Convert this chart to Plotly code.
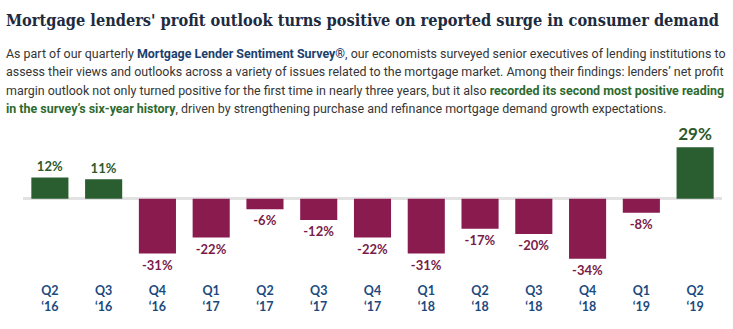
import plotly.graph_objects as go

quarters = ["Q2<br>‘16", "Q3<br>‘16", "Q4<br>‘16", "Q1<br>‘17", "Q2<br>‘17", "Q3<br>‘17",
            "Q4<br>‘17", "Q1<br>‘18", "Q2<br>‘18", "Q3<br>‘18", "Q4<br>‘18", "Q1<br>‘19", "Q2<br>‘19"]
net_profit_outlook = [12, 11, -31, -22, -6, -12, -22, -31, -17, -20, -34, -8, 29]

title_text = "Mortgage lenders' profit outlook turns positive on reported surge in consumer demand"
body_lines = [
    "As part of our quarterly <b><span style='color:#1b3f6e'>Mortgage Lender Sentiment Survey®</span></b>, "
    "our economists surveyed senior executives of lending institutions to",
    "assess their views and outlooks across a variety of issues related to the mortgage market. "
    "Among their findings: lenders’ net profit",
    "margin outlook not only turned positive for the first time in nearly three years, but it also "
    "<b><span style='color:#2e6a2e'>recorded its second most positive reading</span></b>",
    "<b><span style='color:#2e6a2e'>in the survey’s six-year history</span></b>, driven by strengthening "
    "purchase and refinance mortgage demand growth expectations.",
]

GREEN = "#2a5e31"
MAROON = "#891b4f"
GREEN_TXT = "#2c5a2c"
MAROON_TXT = "#7a1c4a"
NAVY = "#1d2b40"
BLUE = "#1b4a7e"

W, H = 733, 329
ML, MR, MT, MB = 23, 11, 142, 59
PW, PH = W - ML - MR, H - MT - MB

def px_x(p):
    return (p - ML) / PW

def px_y(p):
    return (H - MB - p) / PH

bar_colors = [GREEN if v >= 0 else MAROON for v in net_profit_outlook]
txt_colors = [GREEN_TXT if v >= 0 else MAROON_TXT for v in net_profit_outlook]
txt_sizes = [13] * (len(net_profit_outlook) - 1) + [17]
labels = [f"<b>{v}%</b>" for v in net_profit_outlook]

fig = go.Figure(go.Bar(
    x=quarters, y=net_profit_outlook,
    marker=dict(color=bar_colors, line=dict(width=0)),
    text=labels, texttemplate="%{text}", textposition="outside",
    textfont=dict(family="Lato", size=txt_sizes, color=txt_colors),
    constraintext="none", cliponaxis=False, width=0.69,
    hoverinfo="skip",
))

annotations = [
    dict(text=f"<b>{title_text}</b>",
         xref="paper", yref="paper", x=px_x(4), y=px_y(20), xanchor="left", yanchor="middle",
         showarrow=False, font=dict(family="DejaVu Serif Condensed", size=16.2, color=NAVY)),
]
line_y = [53, 71.5, 90, 108.5]
for txt, yy in zip(body_lines, line_y):
    annotations.append(dict(
        text=txt, xref="paper", yref="paper", x=px_x(4), y=px_y(yy),
        xanchor="left", yanchor="middle", align="left", showarrow=False,
        font=dict(family="Roboto", size=12.45, color="#363636")))

fig.update_layout(
    width=W, height=H,
    margin=dict(l=ML, r=MR, t=MT, b=MB),
    paper_bgcolor="white", plot_bgcolor="white",
    showlegend=False,
    xaxis=dict(showgrid=False, showline=False, ticks="",
               tickfont=dict(family="Lato", size=12.5, color=BLUE, weight="bold"),
               ticklabelstandoff=11, fixedrange=True),
    yaxis=dict(range=[-40.3, 32], showgrid=False, showticklabels=False,
               zeroline=True, zerolinecolor="#e2e2e2", zerolinewidth=3, fixedrange=True),
    annotations=annotations,
)

fig.write_html("out.html")
